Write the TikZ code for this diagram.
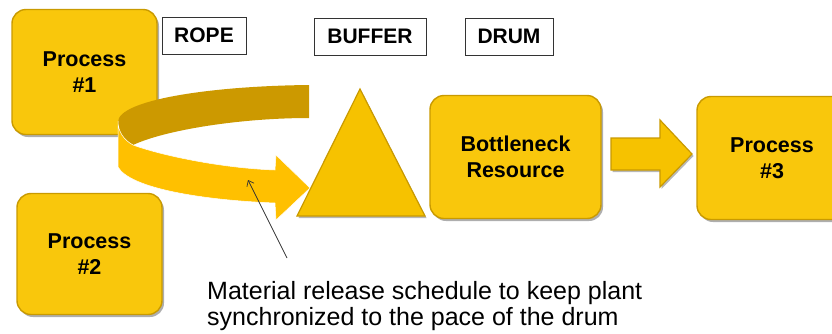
\documentclass[tikz,border=0pt]{standalone}
\usepackage{fontspec}
\setmainfont{Liberation Sans}
\usetikzlibrary{arrows.meta,shadows}
\definecolor{boxfill}{HTML}{F9C70C}
\definecolor{boxedge}{HTML}{C99A00}
\definecolor{ribdark}{HTML}{CC9900}
\definecolor{riblight}{HTML}{FFC000}
\definecolor{trifill}{HTML}{F6C200}
\begin{document}
\begin{tikzpicture}[x=1pt,y=-1pt,
  procbox/.style={rounded corners=14pt, fill=boxfill, draw=boxedge, line width=1.4pt,
    drop shadow={shadow xshift=2pt,shadow yshift=-2.5pt,opacity=0.45,fill=black!70},
    align=center, font=\bfseries\fontsize{21.5}{26}\selectfont, inner sep=0pt},
  tag/.style={draw=black!80, line width=0.7pt, fill=white, minimum height=37pt,
    font=\bfseries\fontsize{21}{25}\selectfont, inner sep=0pt},
  shapefill/.style={fill=trifill, draw=boxedge, line width=1.2pt,
    drop shadow={shadow xshift=1.5pt,shadow yshift=-2pt,opacity=0.4,fill=black!70}},
  pointer/.style={draw=black!80, line width=0.7pt, -{Straight Barb[length=5pt,width=8pt]}}]
\useasboundingbox (0,0) rectangle (832,333);
\clip (0,0) rectangle (832,333);

% process boxes
\node[procbox, minimum width=145pt, minimum height=125pt] (p1) at (84.5,72) {Process\\\#1};
\node[procbox, minimum width=145pt, minimum height=121pt] (p2) at (89.5,254) {Process\\\#2};
\node[procbox, minimum width=171pt, minimum height=123pt] (bn) at (515.5,157) {Bottleneck\\Resource};
\node[procbox, minimum width=150pt, minimum height=123pt] (p3) at (772,158) {Process\\\#3};

% tags
\node[tag, minimum width=84pt] (rope) at (204,35.5) {ROPE};
\node[tag, minimum width=112pt] (buffer) at (370,36.5) {BUFFER};
\node[tag, minimum width=88pt] (drum) at (509,36.5) {DRUM};

% rope ribbon: back (dark) part
\fill[ribdark] (309,85) .. controls (210,86) and (118,100) .. (118,122)
  .. controls (118,132) and (124,140) .. (133,145)
  .. controls (165,130) and (240,118) .. (309,118) -- cycle;
% rope ribbon: front (light) part with arrow head
\filldraw[fill=riblight, draw=white, line width=0.5pt] (118,121)
  .. controls (118,132) and (124,140) .. (133,145)
  .. controls (160,155) and (220,168) .. (275,170)
  -- (276,155) -- (310,188) -- (276,220) -- (275,203)
  .. controls (200,200) and (130,188) .. (118,167) -- cycle;

% buffer triangle
\coordinate (tA) at (360,89);
\coordinate (tB) at (297,216);
\coordinate (tC) at (425,216);
\path[shapefill] (tA) -- (tC) -- (tB) -- cycle;

% arrow from bottleneck to process 3
\path[shapefill] (611,138) -- (660,138) -- (660,120) -- (692,154) -- (660,187) -- (660,170) -- (611,170) -- cycle;

% caption and pointer
\node[anchor=base west, align=left, inner sep=0pt, font=\fontsize{25}{25.5}\selectfont] (cap) at (207,325)
  {Material release schedule to keep plant\\synchronized to the pace of the drum};
\coordinate (ptrfrom) at (287,258);
\coordinate (ptrto) at (248,180);
\draw[pointer] (ptrfrom) -- (ptrto);
\end{tikzpicture}
\end{document}
